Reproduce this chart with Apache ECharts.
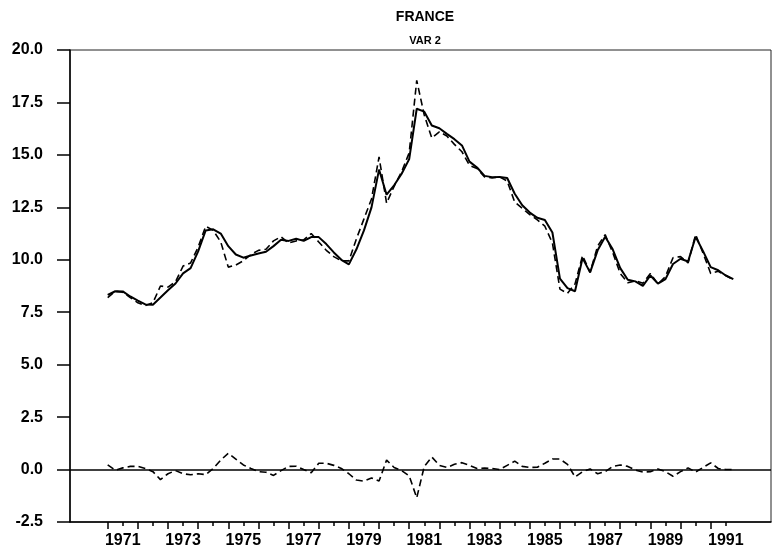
<!DOCTYPE html>
<html>
<head>
<meta charset="utf-8">
<script src="https://cdn.jsdelivr.net/npm/echarts@6/dist/echarts.min.js"></script>
<style>
  html, body { margin: 0; padding: 0; background: #fff; }
  #main { width: 772px; height: 556px; }
</style>
</head>
<body>
<div id="main"></div>
<script>
// quarterly data, 1971Q1 .. 1991Q4
const firstQuarter = '1971Q1'
const actual = [
  8.33, 8.5, 8.49, 8.25, 8.05, 7.87, 7.86, 8.2, 8.55, 8.87,
  9.35, 9.6, 10.4, 11.4, 11.45, 11.25, 10.65, 10.25, 10.1, 10.2,
  10.3, 10.38, 10.65, 10.95, 10.9, 11.0, 10.9, 11.08, 11.08, 10.75,
  10.35, 10.0, 9.78, 10.5, 11.4, 12.5, 14.3, 13.1, 13.55, 14.1,
  14.8, 17.2, 17.06, 16.4, 16.27, 16.0, 15.75, 15.45, 14.68, 14.4,
  14.0, 13.94, 13.95, 13.9, 13.15, 12.6, 12.25, 12.0, 11.9, 11.3,
  9.1, 8.65, 8.5, 10.08, 9.4, 10.45, 11.1, 10.5, 9.6, 9.05,
  8.97, 8.76, 9.25, 8.86, 9.08, 9.8, 10.05, 9.92, 11.1, 10.4,
  9.65, 9.5, 9.25, 9.08
]
const fitted = [
  8.2, 8.5, 8.45, 8.2, 7.95, 7.82, 7.95, 8.75, 8.7, 8.95,
  9.7, 9.85, 10.6, 11.6, 11.4, 10.85, 9.65, 9.75, 9.95, 10.25,
  10.45, 10.5, 10.9, 11.1, 10.8, 10.9, 10.95, 11.25, 10.85, 10.45,
  10.15, 9.95, 9.95, 11.0, 11.95, 12.9, 14.9, 12.7, 13.5, 14.2,
  15.1, 18.55, 16.9, 15.8, 16.1, 15.9, 15.5, 15.15, 14.5, 14.35,
  13.95, 13.9, 13.95, 13.75, 12.75, 12.45, 12.15, 11.9, 11.6, 10.8,
  8.6, 8.4, 8.85, 10.2, 9.4, 10.65, 11.2, 10.35, 9.35, 8.9,
  9.0, 8.88, 9.35, 8.85, 9.2, 10.1, 10.15, 9.85, 11.2, 10.3,
  9.35, 9.45, 9.25, 9.05
]
const residual = [
  0.22, -0.03, 0.08, 0.15, 0.15, 0.05, -0.1, -0.48, -0.2, -0.05,
  -0.2, -0.25, -0.2, -0.24, 0.05, 0.45, 0.78, 0.5, 0.22, 0.05,
  -0.1, -0.13, -0.28, -0.05, 0.15, 0.16, 0.0, -0.15, 0.3, 0.3,
  0.2, 0.05, -0.2, -0.5, -0.55, -0.4, -0.55, 0.45, 0.1, -0.05,
  -0.3, -1.35, 0.15, 0.6, 0.2, 0.1, 0.25, 0.33, 0.2, 0.05,
  0.07, 0.05, 0.0, 0.2, 0.4, 0.15, 0.1, 0.11, 0.3, 0.5,
  0.5, 0.25, -0.35, -0.1, 0.03, -0.2, -0.1, 0.15, 0.22, 0.15,
  -0.02, -0.12, -0.1, 0.03, -0.1, -0.32, -0.1, 0.08, -0.12, 0.1,
  0.32, 0.05, 0.0, 0.0
]
const yTicks = [-2.5, 0, 2.5, 5, 7.5, 10, 12.5, 15, 17.5, 20]
const tickFrom = 1971
const tickTo = 1991

// axis categories: 1969Q4 .. 1993Q1 (a little room either side)
let quarters = []
for (let y = 1969; y <= 1993; y++) {
  for (let q = 1; q <= 4; q++) quarters.push(y + 'Q' + q)
}
quarters = quarters.slice(quarters.indexOf('1969Q4'), quarters.indexOf('1993Q1') + 1)
const start = quarters.indexOf(firstQuarter)

function pairs(arr) {
  return arr.map((v, k) => [quarters[start + k], v])
}
function yearOf(v) { return parseInt(v.slice(0, 4)) }
function inTicks(v) { let y = yearOf(v); return y >= tickFrom && y <= tickTo }

const font = '"Liberation Sans", Arial, Helvetica, sans-serif'

let option = {
  animation: false,
  title: [{
    text: 'FRANCE',
    left: 420,
    top: 5,
    textAlign: 'center',
    textStyle: { fontFamily: font, fontSize: 14, fontWeight: 'bold', color: '#000' }
  }, {
    text: 'VAR 2',
    left: 420,
    top: 30,
    textAlign: 'center',
    textStyle: { fontFamily: font, fontSize: 11, fontWeight: 'bold', color: '#000' }
  }],
  grid: {
    left: 70, right: 1, top: 50, bottom: 34,
    show: true, borderColor: '#222', borderWidth: 1, backgroundColor: 'transparent'
  },
  xAxis: [{
    type: 'category',
    position: 'bottom',
    boundaryGap: false,
    data: quarters,
    axisLine: { onZero: false, lineStyle: { color: '#000', width: 1.5 } },
    axisTick: {
      length: 7,
      lineStyle: { color: '#000', width: 1.5 },
      interval: (i, v) => inTicks(v) && v.endsWith('Q1')
    },
    axisLabel: {
      margin: 11,
      fontFamily: font, fontSize: 16, fontWeight: 'bold', color: '#000',
      interval: (i, v) => inTicks(v) && v.endsWith('Q3') && yearOf(v) % 2 === 1,
      formatter: v => v.slice(0, 4)
    },
    splitLine: { show: false }
  }, {
    type: 'category',
    position: 'bottom',
    boundaryGap: false,
    data: quarters,
    axisLine: { show: false, onZero: false },
    axisTick: {
      length: 4,
      lineStyle: { color: '#000', width: 1.5 },
      interval: (i, v) => inTicks(v) && v.endsWith('Q3')
    },
    axisLabel: { show: false },
    splitLine: { show: false }
  }],
  yAxis: {
    type: 'value',
    min: yTicks[0],
    max: yTicks[yTicks.length - 1],
    interval: 2.5,
    axisLine: { show: true, lineStyle: { color: '#000', width: 1.5 } },
    axisTick: { show: true, length: 13, lineStyle: { color: '#000', width: 1.5 } },
    axisLabel: {
      margin: 27,
      fontFamily: font, fontSize: 16, fontWeight: 'bold', color: '#000',
      formatter: v => v.toFixed(1)
    },
    splitLine: { show: false }
  },
  series: [
    {
      name: 'actual',
      type: 'line',
      data: pairs(actual),
      showSymbol: false,
      lineStyle: { color: '#000', width: 2 }
    },
    {
      name: 'fitted',
      type: 'line',
      data: pairs(fitted),
      showSymbol: false,
      lineStyle: { color: '#000', width: 1.6, type: [7, 4] }
    },
    {
      name: 'residual',
      type: 'line',
      data: pairs(residual),
      showSymbol: false,
      lineStyle: { color: '#000', width: 1.6, type: [7, 4] },
      markLine: {
        silent: true,
        symbol: 'none',
        label: { show: false },
        lineStyle: { color: '#000', width: 1.5, type: 'solid' },
        data: [{ yAxis: 0 }]
      }
    }
  ]
}

let chart = echarts.init(document.getElementById('main'))
chart.setOption(option)
</script>
</body>
</html>
